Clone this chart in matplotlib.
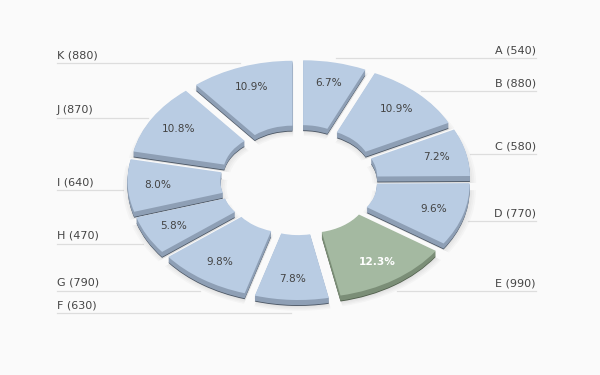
import matplotlib.pyplot as plt
import numpy as np

categories = ['A', 'B', 'C', 'D', 'E', 'F', 'G', 'H', 'I', 'J', 'K']
values = [540, 880, 580, 770, 990, 630, 790, 470, 640, 870, 880]
highlight = 'E'

bg = '#fafafa'
top_blue, wall_blue, edge_blue = '#b9cce3', '#8e9fb5', '#4a5563'
top_green, wall_green, edge_green = '#a4b9a1', '#7b8e77', '#4f5d4b'

fig = plt.figure(figsize=(6, 3.75), dpi=100, facecolor=bg)
ax = fig.add_axes([0, 0, 1, 1])
ax.set_facecolor(bg)

ring = 0.61
depth = 0.056
common = dict(startangle=90, counterclock=False, radius=1,
              explode=[0.128] * len(values))
is_hi = [c == highlight for c in categories]

# soft shadow under the ring
for k in range(4):
    ax.pie(values, center=(0.005, -depth - 0.01), colors=['#000000'] * len(values),
           wedgeprops=dict(width=ring + 0.024 * k, linewidth=0, alpha=0.025),
           **{**common, 'radius': 1 + 0.012 * k})

# side walls: stacked copies shifted downwards
levels = np.linspace(depth, 0, 8)[:-1]
for j, d in enumerate(levels):
    if j == 0:
        cols = [edge_green if h else edge_blue for h in is_hi]
    else:
        cols = [wall_green if h else wall_blue for h in is_hi]
    ax.pie(values, center=(0, -d), colors=cols,
           wedgeprops=dict(width=ring, linewidth=0), **common)

# top faces
top_cols = [top_green if h else top_blue for h in is_hi]
wedges, _, pcts = ax.pie(values, colors=top_cols, autopct='%.1f%%', pctdistance=0.80,
                         textprops=dict(fontsize=7.6, color='#444444'),
                         wedgeprops=dict(width=ring, linewidth=0), **common)
for t, h in zip(pcts, is_hi):
    if h:
        t.set_color('white')
        t.set_fontweight('bold')

# labels with leader lines
x_left, x_right = -242 / 152, 237 / 152
for w, cat, val in zip(wedges, categories, values):
    a = np.deg2rad((w.theta1 + w.theta2) / 2)
    px, py = 1.16 * np.cos(a), 1.21 * np.sin(a) - 0.04
    label = f'{cat} ({val})'
    if np.cos(a) >= 0:
        ax.plot([px, x_right], [py, py], color='#dddddd', lw=0.9, zorder=0.5)
        ax.annotate(label, xy=(x_right, py), xytext=(0, 2), textcoords='offset points',
                    ha='right', va='bottom', fontsize=8, color='#444444')
    else:
        ax.plot([x_left, px], [py, py], color='#dddddd', lw=0.9, zorder=0.5)
        ax.annotate(label, xy=(x_left, py), xytext=(0, 2), textcoords='offset points',
                    ha='left', va='bottom', fontsize=8, color='#444444')

ax.set_aspect('auto')
ax.set_xlim(-299 / 152, 301 / 152)
ax.set_ylim((180 - 375) / 106.4, 180 / 106.4)
ax.axis('off')

fig.savefig('out.png', dpi=100, facecolor=bg)
